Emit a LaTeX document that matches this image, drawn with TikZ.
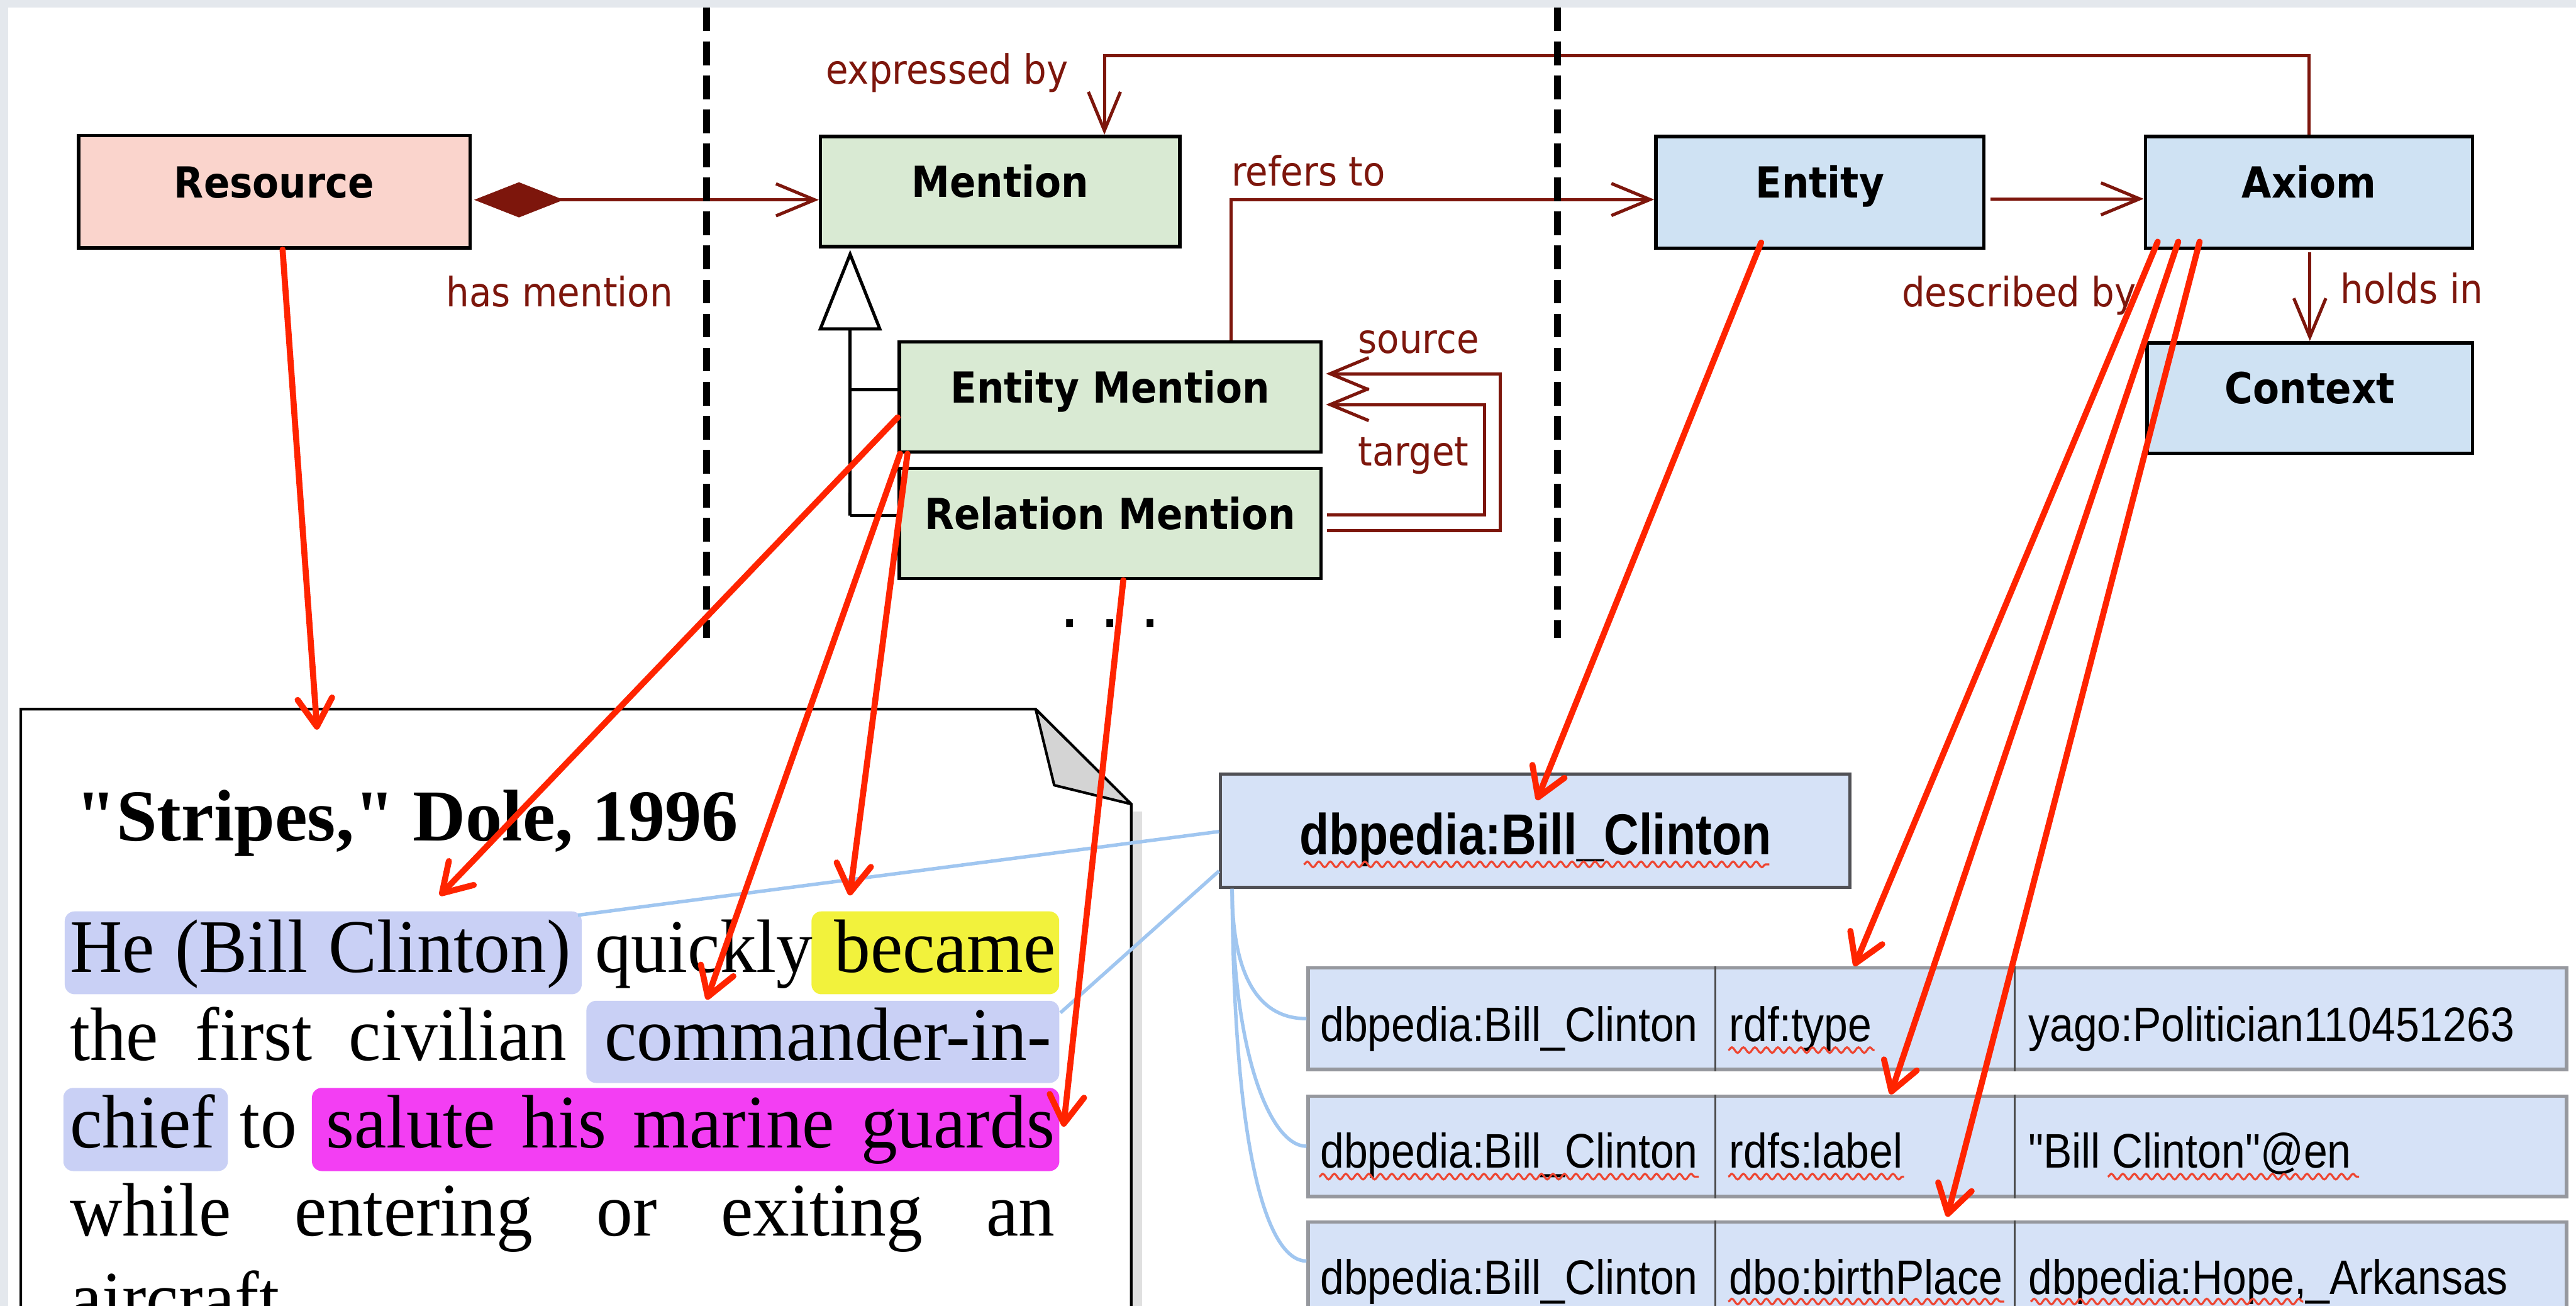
\documentclass[tikz,border=0pt]{standalone}
\usepackage{fontspec}
\setmainfont{Liberation Serif}
\newfontfamily\umlfont[FakeStretch=0.9]{DejaVu Sans}
\newfontfamily\dbfont[FakeStretch=0.88]{Liberation Sans}
\newfontfamily\dbbfont[FakeStretch=0.84]{Liberation Sans}
\newfontfamily\docfont[FakeStretch=0.96]{Liberation Serif}
\newfontfamily\titlefont{Liberation Serif}
\usetikzlibrary{arrows.meta,calc,decorations.pathmorphing}

\definecolor{bggrey}{RGB}{228,232,237}
\definecolor{respink}{RGB}{250,212,204}
\definecolor{mengreen}{RGB}{217,234,211}
\definecolor{entblue}{RGB}{207,226,243}
\definecolor{dbblue}{RGB}{214,226,247}
\definecolor{umlred}{RGB}{125,22,12}
\definecolor{arrred}{RGB}{255,36,0}
\definecolor{linkblue}{RGB}{160,198,240}
\definecolor{hllav}{RGB}{201,208,245}
\definecolor{hlyel}{RGB}{242,242,60}
\definecolor{hlmag}{RGB}{243,62,243}
\definecolor{squigred}{RGB}{238,70,50}
\definecolor{rowgrey}{RGB}{150,152,158}
\definecolor{dbborder}{RGB}{80,80,85}
\definecolor{foldgrey}{RGB}{212,212,212}

\begin{document}
\begin{tikzpicture}[x=0.01cm,y=-0.01cm,
  umlbox/.style={draw=black, line width=0.6pt, inner sep=0pt, text height=0.19cm, text depth=0.12cm, font=\umlfont\bfseries\fontsize{7.4}{9}\selectfont},
  umllabel/.style={anchor=base west, inner sep=0pt, text=umlred, font=\umlfont\fontsize{7}{8.4}\selectfont},
  uarr/.style={draw=umlred, line width=0.55pt, -{Straight Barb[length=0.235cm,width=0.195cm]}},
  sepline/.style={line width=1.2pt, dash pattern=on 0.144cm off 0.063cm},
  redarr/.style={draw=arrred, line width=1.05pt, line cap=round, -{Straight Barb[length=0.17cm,width=0.21cm,round]}},
  bluelink/.style={draw=linkblue, line width=0.6pt},
  hl/.style={rounded corners=0.06cm, inner sep=0pt},
  doctext/.style={anchor=base west, inner sep=0pt, font=\docfont\fontsize{13.1}{15}\selectfont},
  dbrow/.style={fill=dbblue, draw=rowgrey, line width=0.6pt, inner sep=0pt, minimum width=7.655cm},
  divline/.style={draw=black!70, line width=0.3pt},
  celltext/.style={anchor=base west, inner sep=0pt, font=\dbfont\fontsize{8.4}{10}\selectfont},
  squig/.style={draw=squigred, line width=0.35pt, decorate, decoration={snake, segment length=0.07cm, amplitude=0.017cm}},
]
\useasboundingbox (0,0) rectangle (1568,794.7);
\clip (0,0) rectangle (1568,794.7);
\fill[bggrey] (0,0) rectangle (1568,794.7);
\fill[white] (5,4.5) rectangle (1568,794.7);

% ---------- document ----------
\draw[black!12, line width=0.05cm] (692.5,494) -- (692.5,830);
\filldraw[fill=white, draw=black, line width=0.45pt] (12.7,830) -- (12.7,431.5) -- (630.4,431.5) -- (688.6,489.3) -- (688.6,830);
\filldraw[fill=foldgrey, draw=black, line width=0.45pt, line join=round] (630.4,431.5) -- (641.7,477.8) -- (688.6,489.3) -- cycle;

\node[anchor=base west, inner sep=0pt, font=\titlefont\bfseries\fontsize{12.66}{15}\selectfont] (title) at (45.5,511.5) {"Stripes," Dole, 1996};

\node[hl, fill=hllav, minimum width=3.145cm, minimum height=0.504cm] (hHe) at (196.75,579.8) {};
\node[hl, fill=hlyel, minimum width=1.507cm, minimum height=0.504cm] (hBec) at (569.35,579.8) {};
\node[hl, fill=hllav, minimum width=2.877cm, minimum height=0.50cm] (hCom) at (500.85,634) {};
\node[hl, fill=hllav, minimum width=1.001cm, minimum height=0.506cm] (hChi) at (88.65,687.3) {};
\node[hl, fill=hlmag, minimum width=4.547cm, minimum height=0.506cm] (hSal) at (417.35,687.3) {};

\node[doctext] (tHe) at (41.8,591.5) {\makebox[3.047cm][s]{He (Bill Clinton)}};
\node[doctext] (tQui) at (361.5,591.5) {quickly};
\node[doctext] (tBec) at (507,591.5) {became};
\node[doctext] (tL2) at (41.8,645.2) {\makebox[3.024cm][s]{the first civilian}};
\node[doctext] (tCom) at (367.4,645.2) {commander-in-};
\node[doctext] (tChi) at (41.8,698.5) {chief};
\node[doctext] (tTo) at (145.5,698.5) {to};
\node[doctext] (tSal) at (197.8,698.5) {\makebox[4.432cm][s]{salute his marine guards}};
\node[doctext] (tL4) at (41.8,752) {\makebox[5.992cm][s]{while entering or exiting an}};
\node[doctext] (tL5) at (41.8,805.5) {aircraft};

% ---------- dbpedia ----------
\node[draw=dbborder, fill=dbblue, line width=0.5pt, inner sep=0pt, minimum width=3.83cm, minimum height=0.69cm, text height=0.29cm, text depth=0cm, font=\dbbfont\bfseries\fontsize{10}{12}\selectfont] (dbc) at (934.5,505.5) {dbpedia:Bill\_Clinton};

\node[dbrow, minimum height=0.617cm] (row1) at (1179.25,619.85) {};
\node[dbrow, minimum height=0.61cm] (row2) at (1179.25,697.5) {};
\node[dbrow, minimum height=0.613cm] (row3) at (1179.25,774.35) {};
\foreach \r in {row1,row2,row3}{
  \draw[divline] ($(\r.north west)+(248.8,0)$) -- ($(\r.south west)+(248.8,0)$);
  \draw[divline] ($(\r.north west)+(431,0)$) -- ($(\r.south west)+(431,0)$);
}
\node[celltext] (c11) at (803,633.8) {dbpedia:Bill\_Clinton};
\node[celltext] (c12) at (1052,633.8) {rdf:type};
\node[celltext] (c13) at (1234,633.8) {yago:Politician110451263};
\node[celltext] (c21) at (803,710.8) {dbpedia:Bill\_Clinton};
\node[celltext] (c22) at (1052,710.8) {rdfs:label};
\node[celltext] (c23) at (1234,710.8) {"Bill Clinton"@en};
\node[celltext] (c31) at (803,787.6) {dbpedia:Bill\_Clinton};
\node[celltext] (c32) at (1052,787.6) {dbo:birthPlace};
\node[celltext] (c33) at (1234,787.6) {dbpedia:Hope,\_Arkansas};

\draw[squig] (793.6,526) -- (1077,526);
\draw[squig] (1052,639) -- (1141,639);
\draw[squig] (803,716) -- (1034,716);
\draw[squig] (1052,716) -- (1159,716);
\draw[squig] (1283,716) -- (1436,716);
\draw[squig] (1052,792) -- (1220,792);
\draw[squig] (1236,792) -- (1402,792);

% ---------- UML ----------
\node[umlbox, fill=respink, minimum width=2.38cm, minimum height=0.682cm] (res) at (167,116.7) {Resource};
\node[umlbox, fill=mengreen, minimum width=2.185cm, minimum height=0.67cm] (men) at (608.75,116.5) {Mention};
\node[umlbox, fill=entblue, minimum width=1.995cm, minimum height=0.68cm] (ent) at (1107.75,117) {Entity};
\node[umlbox, fill=entblue, minimum width=1.99cm, minimum height=0.68cm] (ax) at (1405.5,117) {Axiom};
\node[umlbox, fill=entblue, minimum width=1.98cm, minimum height=0.672cm] (ctx) at (1406,242.2) {Context};
\node[umlbox, fill=mengreen, minimum width=2.565cm, minimum height=0.67cm] (em) at (675.75,241.5) {Entity Mention};
\node[umlbox, fill=mengreen, minimum width=2.565cm, minimum height=0.67cm] (rm) at (675.75,318.5) {Relation Mention};

\draw[draw=umlred, line width=0.55pt, {Diamond[length=0.545cm,width=0.214cm]}-{Straight Barb[length=0.235cm,width=0.195cm]}] ($(res.east)+(1.5,4.9)$) -- ($(men.west)+(0,5.1)$);
\coordinate (expTurn) at ($(men.north)+(63.5,-48)$);
\draw[uarr] (ax.north) |- (expTurn) -- ($(men.north)+(63.5,0)$);
\draw[uarr] ($(em.north)+(73.75,0)$) |- ($(ent.west)+(0,4.4)$);
\draw[uarr] ($(ent.east)+(3,4)$) -- ($(ax.west)+(0,4)$);
\draw[uarr] ($(ax.south)+(0.5,1.6)$) -- (ctx.north);
\draw[uarr] ($(rm.east)+(2.7,-5.2)$) -| ($(em.east)+(98.4,4.7)$) -- ($(em.east)+(2,4.7)$);
\draw[uarr] ($(rm.east)+(2.7,4.5)$) -| ($(em.east)+(108.2,-14.1)$) -- ($(em.east)+(2,-14.1)$);

\coordinate (gen) at ($(rm.west)+(-29,-4.7)$);
\coordinate (genE) at ($(em.west)+(-29,-4.5)$);
\draw[line width=0.55pt, -{Triangle[open,length=0.49cm,width=0.385cm]}] (gen) -- ($(men.south west)+(19.1,1)$);
\draw[line width=0.55pt] (genE) -- (genE -| em.west);
\draw[line width=0.55pt] (gen) -- (gen -| rm.west);

\node[umllabel] (lexp) at (502,51) {expressed by};
\node[umllabel] (lref) at (749,113) {refers to};
\node[umllabel] (lhas) at (271,186.8) {has mention};
\node[umllabel] (ldes) at (1157,186.6) {described by};
\node[umllabel] (lhol) at (1424,184.7) {holds in};
\node[umllabel] (lsrc) at (826,215) {source};
\node[umllabel] (ltgt) at (826,283.3) {target};

\node[anchor=base west, inner sep=0pt, font=\umlfont\bfseries\fontsize{7.4}{9}\selectfont] (dots) at (646,382) {.\hspace{0.156cm}.\hspace{0.156cm}.};

\draw[sepline] (430,4.5) -- (430,388);
\draw[sepline] (948,4.5) -- (948,388);

% ---------- links ----------
\draw[bluelink] ($(hHe.north east)+(-3,3)$) -- ($(dbc.west)+(0,0.5)$);
\draw[bluelink] ($(hCom.north east)+(0,8)$) -- ($(dbc.west)+(0,24.5)$);
\coordinate (dbcFoot) at ($(dbc.south west)+(8,0)$);
\draw[bluelink] (dbcFoot) .. controls ($(dbcFoot)+(0,55)$) and ($(row1.west)+(-28,0)$) .. (row1.west);
\draw[bluelink] (dbcFoot) .. controls ($(dbcFoot)+(0,100)$) and ($(row2.west)+(-22,0)$) .. (row2.west);
\draw[bluelink] (dbcFoot) .. controls ($(dbcFoot)+(1,170)$) and ($(row3.west)+(-22,-7)$) .. ($(row3.west)+(0,-7)$);

\coordinate (tipDoc) at (193,444);
\draw[redarr] ($(res.south)+(5,0)$) -- (tipDoc);
\draw[redarr] ($(em.west)+(0,12.5)$) -- ($(hHe.north)+(71,-9)$);
\draw[redarr] ($(em.south west)+(1.5,0)$) -- ($(hCom.north west)+(74,0)$);
\draw[redarr] ($(em.south west)+(6,0)$) -- ($(hBec.north west)+(24,-9)$);
\draw[redarr] ($(rm.south)+(8,0)$) -- ($(hSal.east)+(1.8,-1.7)$);
\draw[redarr] ($(ent.south)+(-35.75,-4.5)$) -- ($(dbc.north)+(1,16.8)$);
\draw[redarr] ($(ax.south west)+(8.5,-5)$) -- ($(row1.north west)+(333.5,0)$);
\draw[redarr] ($(ax.south west)+(21,-5)$) -- ($(row2.north west)+(355.5,0)$);
\draw[redarr] ($(ax.south west)+(34,-5)$) -- ($(row3.north west)+(390,-2.2)$);
\end{tikzpicture}
\end{document}
